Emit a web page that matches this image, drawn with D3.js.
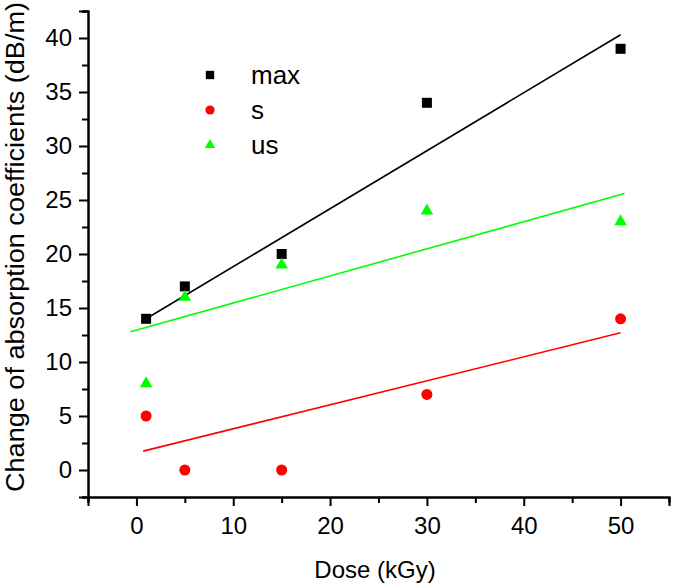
<!DOCTYPE html>
<html><head><meta charset="utf-8">
<script src="https://cdn.jsdelivr.net/npm/d3@7"></script>
<style>body{margin:0;background:#fff}svg{display:block}text{font-family:"Liberation Sans",Arial,sans-serif}</style>
</head><body>
<script>
const dose = [1, 5, 15, 30, 50];
const maxVals = [14, 17, 20, 34, 39];
const sVals = [5, 0, 0, 7, 14];
const usVals = [8, 16, 19, 24, 23];
// fitted line endpoints: [x, y]
const maxFit = [[1, 14.0], [50, 40.3]];
const sFit = [[0.7, 1.75], [50, 12.7]];
const usFit = [[-0.6, 12.8], [50.4, 25.6]];
const xTicks = [0, 10, 20, 30, 40, 50];
const yTicks = [0, 5, 10, 15, 20, 25, 30, 35, 40];
const seriesNames = ["max", "s", "us"];
const seriesColors = ["#000000", "#ff0000", "#00ff00"];

const W = 675, H = 588;
const svg = d3.select("body").append("svg").attr("width", W).attr("height", H);
const x = d3.scaleLinear().domain([-5, 55]).range([88, 669]);
const y = d3.scaleLinear().domain([-2.5, 42.5]).range([497, 11]);

// axes
const xAxis = d3.axisBottom(x).tickValues(xTicks).tickSize(9).tickPadding(11).tickFormat(d3.format("d"));
const xMinor = d3.axisBottom(x).tickValues(d3.range(-5, 56, 10)).tickSize(6).tickFormat("");
const yAxis = d3.axisLeft(y).tickValues(yTicks).tickSize(9).tickPadding(7).tickFormat(d3.format("d"));
const yMinor = d3.axisLeft(y).tickValues(d3.range(-2.5, 43, 5)).tickSize(6).tickFormat("");

function style(g){
  g.select(".domain").attr("stroke","#000").attr("stroke-width",2);
  g.selectAll(".tick line").attr("stroke","#000").attr("stroke-width",2);
  g.selectAll(".tick text").attr("fill","#000").style("font-size","24px").style("font-family",'"Liberation Sans",Arial,sans-serif');
}
svg.append("g").attr("transform","translate(0,497)").call(xMinor).call(style);
svg.append("g").attr("transform","translate(0,497)").call(xAxis).call(style);
svg.append("g").attr("transform","translate(88,0)").call(yMinor).call(style);
svg.append("g").attr("transform","translate(88,0)").call(yAxis).call(style);

// titles
svg.append("text").attr("x", 375).attr("y", 578).attr("text-anchor","middle")
  .style("font-size","24px").text("Dose (kGy)");
svg.append("text").attr("transform","translate(24,247) rotate(-90)").attr("text-anchor","middle")
  .attr("textLength", 490).attr("lengthAdjust", "spacingAndGlyphs")
  .style("font-size","26px").text("Change of absorption coefficients (dB/m)");

// fit lines
const line = d3.line().x(d => x(d[0])).y(d => y(d[1]));
[maxFit, sFit, usFit].forEach((f, i) => {
  svg.append("path").attr("d", line(f)).attr("fill","none")
    .attr("stroke", seriesColors[i]).attr("stroke-width", 1.6);
});

// markers
const sym = [d3.symbolSquare, d3.symbolCircle, d3.symbolTriangle];
const sizes = [100, 95, 68];
[maxVals, sVals, usVals].forEach((vals, i) => {
  svg.append("g").selectAll("path").data(vals).join("path")
    .attr("transform", (v, j) => `translate(${x(dose[j])},${y(v)})`)
    .attr("d", d3.symbol().type(sym[i]).size(sizes[i])())
    .attr("fill", seriesColors[i]);
});

// legend
const legY = [75, 110, 145];
const legBase = [83.5, 118.5, 154];
seriesNames.forEach((n, i) => {
  svg.append("path").attr("transform", `translate(210,${legY[i]})`)
    .attr("d", d3.symbol().type(sym[i]).size(sizes[i]*0.7)()).attr("fill", seriesColors[i]);
  svg.append("text").attr("x", 251).attr("y", legBase[i]).style("font-size","26px").text(n);
});
</script>
</body></html>
